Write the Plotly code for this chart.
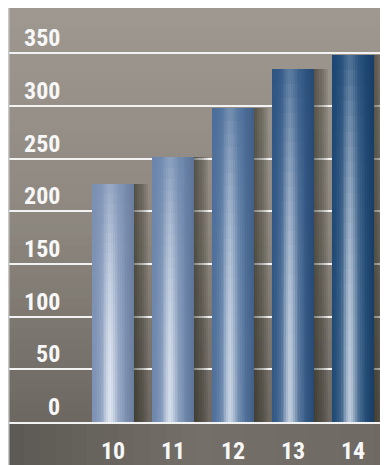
import plotly.graph_objects as go
import numpy as np

categories = ["10", "11", "12", "13", "14"]
values = [226, 251, 298, 335, 348]
y_ticks = [0, 50, 100, 150, 200, 250, 300, 350]

# per-bar colours: edge (dark) and bottom highlight (light)
edge_cols = [(122, 143, 179), (106, 132, 171), (75, 109, 153), (45, 84, 131), (27, 70, 115)]
hl_cols = [(222, 229, 240), (213, 222, 234), (200, 212, 227), (193, 206, 222), (189, 203, 220)]

FONT = "Roboto Condensed, Roboto, Liberation Sans Narrow, DejaVu Sans Condensed, sans-serif"

# the page body adds an 8px offset, the figure fills the rest of the window
W, H = 380, 457
ML, MT, MB, MR = 0, 0, 43, 0
PW, PH = W - ML - MR, H - MT - MB
px_per_unit_y = 1.054
y_max = PH / px_per_unit_y
x_left = -1.75
x_right = x_left + PW / 60.0
bar_w = 0.7

fig = go.Figure()
xs = list(range(len(categories)))

# --- soft shadows to the right of bars
for k in range(7):
    fig.add_trace(go.Bar(
        x=xs, y=values, width=bar_w / 2 + 0.02 + k * 0.035, offset=0,
        marker=dict(color="rgba(25,20,15,0.09)", line=dict(width=0)),
        hoverinfo="skip", showlegend=False))

# --- gradient bars (strips x segments, drawn with overlap so no seams)
NS, NV = 24, 24
def colour(i, u, v):
    e = np.array(edge_cols[i], float)
    h = np.array(hl_cols[i], float)
    hu = 0.55 * np.exp(-((u - 0.42) / 0.13) ** 2) + 0.45 * np.exp(-((u - 0.45) / 0.28) ** 2)
    sv = 0.3 + 0.7 * (1 - v ** 2)
    c = e + (h - e) * hu * sv
    d = 1 - 0.12 * max(0.0, (u - 0.7) / 0.3)
    c = c * d
    c = np.clip(c, 0, 255).astype(int)
    return f"rgb({c[0]},{c[1]},{c[2]})"

for j in range(NS):
    u = (j + 0.5) / NS
    for k in range(NV):
        v = (k + 0.5) / NV
        bases = [val * k / NV for val in values]
        heights = [val * (1 - k / NV) for val in values]
        cols = [colour(i, u, v) for i in range(len(values))]
        fig.add_trace(go.Bar(
            x=xs, y=heights, base=bases,
            width=bar_w * (NS - j) / NS, offset=-bar_w / 2 + bar_w * j / NS,
            marker=dict(color=cols, line=dict(width=0)),
            hoverinfo="skip", showlegend=False))

# --- background shapes
shapes = []
def lerp(c1, c2, t):
    return tuple(int(round(a + (b - a) * t)) for a, b in zip(c1, c2))
stops = [(0.0, (108, 103, 97)), (0.5, (142, 136, 128)), (1.0, (158, 152, 144))]
NB = 40
for b in range(NB):
    y0, y1 = b / NB, (b + 1) / NB
    t = (b + 0.5) / NB
    if t < 0.5:
        c = lerp(stops[0][1], stops[1][1], t / 0.5)
    else:
        c = lerp(stops[1][1], stops[2][1], (t - 0.5) / 0.5)
    shapes.append(dict(type="rect", xref="paper", yref="paper", x0=0, x1=1, y0=y0, y1=y1 + 0.002,
                       fillcolor=f"rgb{c}", line=dict(width=0), layer="below"))
# bottom band
yb = -MB / PH
bstops = [(0.0, (92, 88, 83)), (0.5, (116, 111, 104)), (1.0, (110, 105, 99))]
NX = 24
for b in range(NX):
    t = (b + 0.5) / NX
    if t < 0.5:
        c = lerp(bstops[0][1], bstops[1][1], t / 0.5)
    else:
        c = lerp(bstops[1][1], bstops[2][1], (t - 0.5) / 0.5)
    shapes.append(dict(type="rect", xref="paper", yref="paper", x0=b / NX, x1=(b + 1) / NX + 0.002,
                       y0=yb - 0.01, y1=0, fillcolor=f"rgb{c}", line=dict(width=0), layer="below"))
# light left edge strip
shapes.append(dict(type="rect", xref="paper", yref="paper", x0=0, x1=1.5 / PW, y0=yb - 0.01, y1=1,
                   fillcolor="rgb(200,200,200)", line=dict(width=0), layer="above"))

annotations = []
for t in y_ticks:
    annotations.append(dict(x=54 / PW, xref="paper", y=t, yref="y", yshift=15,
                            text=str(t), showarrow=False, xanchor="right", yanchor="middle",
                            font=dict(family=FONT, size=24, color="#f7f7f7", weight="bold")))

fig.update_layout(
    width=W, height=H, margin=dict(l=ML, r=MR, t=MT, b=MB, pad=0),
    paper_bgcolor="white", plot_bgcolor="rgba(0,0,0,0)",
    barmode="overlay", bargap=0, showlegend=False,
    shapes=shapes, annotations=annotations,
    xaxis=dict(range=[x_left, x_right], tickmode="array", tickvals=xs, ticktext=categories,
               showgrid=False, zeroline=False, showline=True, linecolor="#f2f2f2", linewidth=2,
               ticks="", ticklabelstandoff=6,
               tickfont=dict(family=FONT, size=24, color="#f7f7f7", weight="bold"), fixedrange=True),
    yaxis=dict(range=[0, y_max], tickmode="array", tickvals=y_ticks, showticklabels=False,
               showgrid=True, gridcolor="#f2f2f2", gridwidth=2, zeroline=False, fixedrange=True),
)

fig.write_html("out.html")
